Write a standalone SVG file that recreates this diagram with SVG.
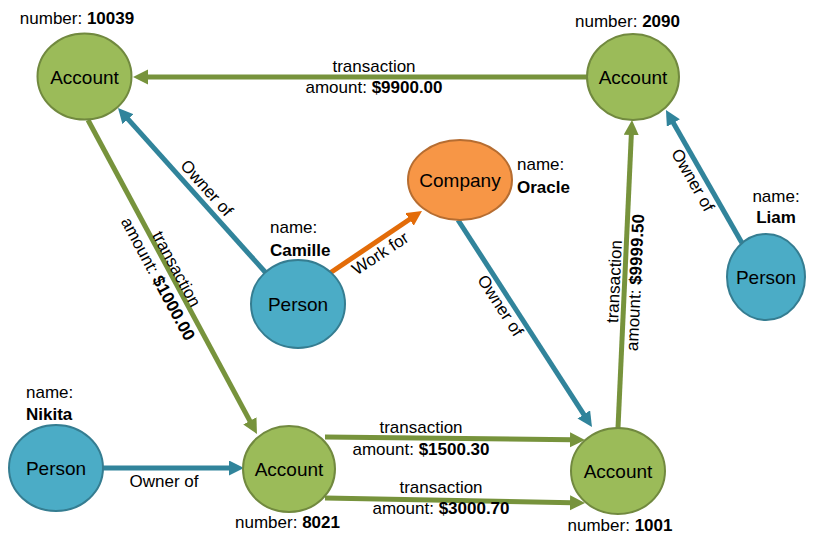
<svg xmlns="http://www.w3.org/2000/svg" width="816" height="534" viewBox="0 0 816 534">
<style>
text{font-family:"Liberation Sans",Arial,sans-serif;fill:#000}
.lbl{font-size:17px}
.nl{font-size:19px;text-anchor:middle}
.b{font-weight:bold}
.mid{text-anchor:middle}
.acc{fill:#9BBB59;stroke:#71893F;stroke-width:2}
.per{fill:#4BACC6;stroke:#357D91;stroke-width:2}
.com{fill:#F79646;stroke:#B66D31;stroke-width:2}
.eg{stroke:#77933C;stroke-width:5;fill:none;marker-end:url(#ag)}
.eb{stroke:#31849B;stroke-width:5;fill:none;marker-end:url(#ab)}
.eo{stroke:#E36C09;stroke-width:5;fill:none;marker-end:url(#ao)}
</style>
<defs>
<marker id="ag" markerUnits="userSpaceOnUse" markerWidth="16" markerHeight="16" refX="2" refY="7.5" orient="auto"><path d="M0,0 L15,7.5 L0,15 z" fill="#77933C"/></marker>
<marker id="ab" markerUnits="userSpaceOnUse" markerWidth="16" markerHeight="16" refX="2" refY="7.5" orient="auto"><path d="M0,0 L15,7.5 L0,15 z" fill="#31849B"/></marker>
<marker id="ao" markerUnits="userSpaceOnUse" markerWidth="16" markerHeight="16" refX="2" refY="7.5" orient="auto"><path d="M0,0 L15,7.5 L0,15 z" fill="#E36C09"/></marker>
</defs>
<rect width="816" height="534" fill="#fff"/>
<g id="connectors">
<line class="eg" x1="587" y1="77" x2="146" y2="77"/>
<text class="lbl mid" x="374" y="72">transaction</text>
<text class="lbl mid" x="374" y="93">amount: <tspan class="b">$9900.00</tspan></text>

<line class="eg" x1="88" y1="120" x2="250.8" y2="422.6"/>
<g transform="translate(167,274) rotate(61.7)">
<text class="lbl mid" x="0" y="-5">transaction</text>
<text class="lbl mid" x="0" y="16">amount: <tspan class="b">$1000.00</tspan></text>
</g>

<line class="eb" x1="266" y1="273" x2="126.7" y2="117.7"/>
<text class="lbl mid" transform="translate(198,196) rotate(48)" x="0" y="-6">Owner of</text>

<line class="eo" x1="330" y1="273" x2="411.2" y2="218.3"/>
<text class="lbl mid" transform="translate(374,244) rotate(-33.5)" x="0" y="17">Work for</text>

<line class="eb" x1="458" y1="220" x2="584.9" y2="416.1"/>
<text class="lbl mid" transform="translate(509,300) rotate(57)" x="0" y="16">Owner of</text>

<line class="eg" x1="618" y1="428" x2="631.4" y2="133"/>
<g transform="translate(625,282) rotate(-87.4)">
<text class="lbl mid" x="0" y="-5">transaction</text>
<text class="lbl mid" x="0" y="16">amount: <tspan class="b">$9999.50</tspan></text>
</g>

<line class="eb" x1="742" y1="243" x2="672.4" y2="121.3"/>
<text class="lbl mid" transform="translate(702.6,174.5) rotate(60.3)" x="0" y="17">Owner of</text>

<line class="eb" x1="103" y1="468" x2="231" y2="468"/>
<text class="lbl mid" x="164" y="487">Owner of</text>

<line class="eg" x1="325" y1="437" x2="572" y2="439.8"/>
<text class="lbl mid" x="421" y="433">transaction</text>
<text class="lbl mid" x="421" y="455">amount: <tspan class="b">$1500.30</tspan></text>

<line class="eg" x1="325" y1="498" x2="572" y2="502.8"/>
<text class="lbl mid" x="441" y="493">transaction</text>
<text class="lbl mid" x="441" y="514">amount: <tspan class="b">$3000.70</tspan></text>
</g>

<g id="account10039">
<ellipse class="acc" cx="84.5" cy="76.5" rx="47" ry="43"/>
<text class="nl" x="84.5" y="83.5">Account</text>
<text class="lbl mid" x="77" y="24">number: <tspan class="b">10039</tspan></text>
</g>
<g id="account2090">
<ellipse class="acc" cx="633" cy="77" rx="46" ry="43"/>
<text class="nl" x="633" y="84">Account</text>
<text class="lbl mid" x="627.5" y="27">number: <tspan class="b">2090</tspan></text>
</g>
<g id="company">
<ellipse class="com" cx="460" cy="180" rx="52" ry="40"/>
<text class="nl" x="460" y="187">Company</text>
<text class="lbl" x="517" y="170">name:</text>
<text class="lbl b" x="517" y="193">Oracle</text>
</g>
<g id="personLiam">
<ellipse class="per" cx="766" cy="277" rx="39" ry="43"/>
<text class="nl" x="766" y="284">Person</text>
<text class="lbl mid" x="776" y="202">name:</text>
<text class="lbl b mid" x="776" y="223">Liam</text>
</g>
<g id="personCamille">
<ellipse class="per" cx="298" cy="304" rx="47" ry="44"/>
<text class="nl" x="298" y="311">Person</text>
<text class="lbl" x="270" y="233">name:</text>
<text class="lbl b" x="270" y="256">Camille</text>
</g>
<g id="personNikita">
<ellipse class="per" cx="56" cy="468" rx="47" ry="43"/>
<text class="nl" x="56" y="475">Person</text>
<text class="lbl" x="26" y="398">name:</text>
<text class="lbl b" x="26" y="420">Nikita</text>
</g>
<g id="account8021">
<ellipse class="acc" cx="289" cy="469" rx="46" ry="43"/>
<text class="nl" x="289" y="476">Account</text>
<text class="lbl mid" x="287.5" y="528">number: <tspan class="b">8021</tspan></text>
</g>
<g id="account1001">
<ellipse class="acc" cx="618" cy="471" rx="47" ry="43"/>
<text class="nl" x="618" y="478">Account</text>
<text class="lbl mid" x="620" y="531">number: <tspan class="b">1001</tspan></text>
</g>
</svg>
